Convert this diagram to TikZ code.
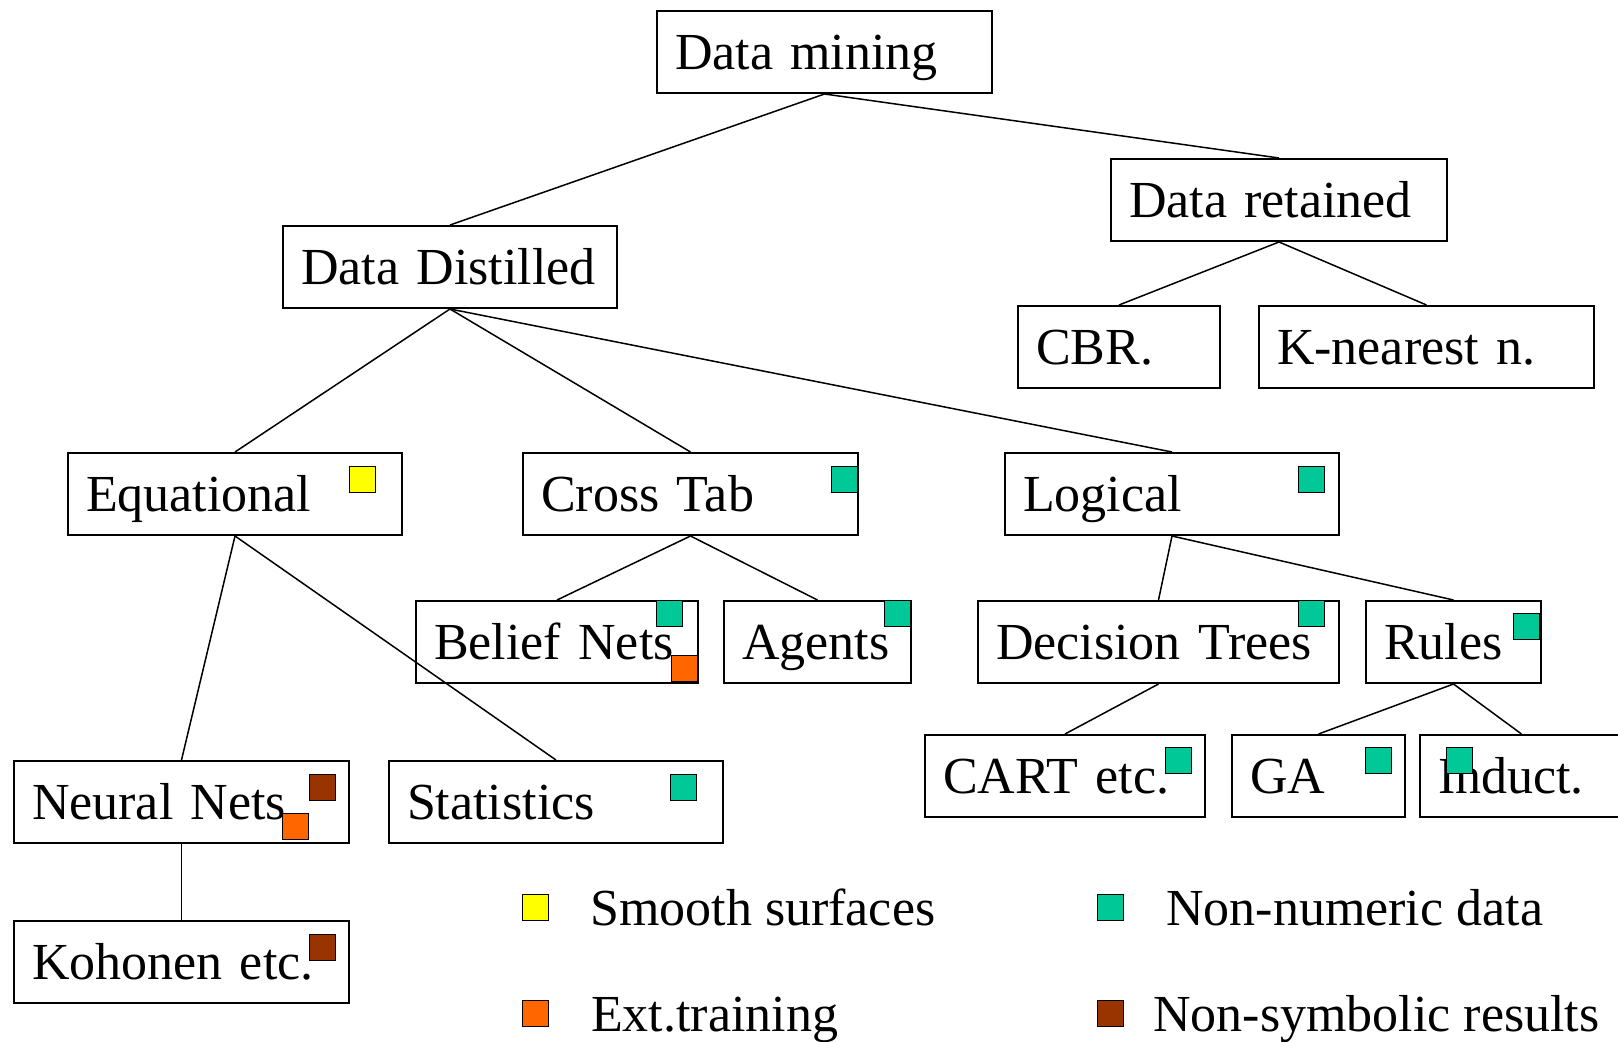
\documentclass[tikz,border=0pt]{standalone}
\usepackage{fontspec}
\setmainfont{Liberation Serif}
\definecolor{nonnum}{RGB}{0,200,150}
\definecolor{smooth}{RGB}{255,255,0}
\definecolor{exttrain}{RGB}{255,102,0}
\definecolor{nonsym}{RGB}{153,51,0}
\newcommand{\labelfont}{\fontsize{52}{60}\selectfont}

\begin{document}
\begin{tikzpicture}[x=1pt,y=-1pt,
  box/.style={draw, line width=2pt, rectangle, anchor=north west,
    minimum height=82pt, inner xsep=18pt, inner ysep=0pt, align=left,
    text height=34.4pt, text depth=0pt, font=\labelfont, text width=#1},
  box/.default=299pt,
  link/.style={line width=1.5pt},
  sq/.style={draw, line width=1.3pt, fill=#1, minimum size=26pt,
    inner sep=0pt, anchor=north west},
  legtext/.style={anchor=base west, inner sep=0pt, font=\labelfont}]

\useasboundingbox (0,0) rectangle (1618,1042);
\fill[white] (0,0) rectangle (1618,1042);
\clip (0,0) rectangle (1618,1042);

% tree boxes
\node[box]        (dm)   at (656,10)   {Data mining};
\node[box=300pt]  (dr)   at (1110,158) {Data retained};
\node[box=298pt]  (dd)   at (282,225)  {Data Distilled};
\node[box=166pt]  (cbr)  at (1017,305) {CBR.};
\node[box]        (knn)  at (1258,305) {K-nearest n.};
\node[box=298pt]  (eq)   at (67,452)   {Equational};
\node[box]        (ct)   at (522,452)  {Cross Tab};
\node[box=298pt]  (lg)   at (1004,452) {Logical};
\node[box=246pt]  (bn)   at (415,600)  {Belief Nets};
\node[box=151pt]  (ag)   at (723,600)  {Agents};
\node[box=325pt]  (dt)   at (977,600)  {Decision Trees};
\node[box=139pt]  (ru)   at (1365,600) {Rules};
\node[box=244pt]  (cart) at (924,734)  {CART etc.};
\node[box=137pt]  (ga)   at (1231,734) {GA};
\node[box=167pt]  (ind)  at (1419,734) {Induct.};
\node[box]        (nn)   at (13,760)   {Neural Nets};
\node[box=298pt]  (st)   at (388,760)  {Statistics};
\node[box]        (ko)   at (13,920)   {Kohonen etc.};

% connectors
\draw[link] (dm.south) -- (dd.north);
\draw[link] (dm.south) -- (dr.north);
\draw[link] (dr.south) -- (cbr.north);
\draw[link] (dr.south) -- (knn.north);
\draw[link] (dd.south) -- (eq.north);
\draw[link] (dd.south) -- (ct.north);
\draw[link] (dd.south) -- (lg.north);
\draw[link] (eq.south) -- (nn.north);
\draw[link] (eq.south) -- (st.north);
\draw[link] (ct.south) -- (bn.north);
\draw[link] (ct.south) -- (ag.north);
\draw[link] (lg.south) -- (dt.north);
\draw[link] (lg.south) -- (ru.north);
\draw[link] (dt.south) -- (cart.north);
\draw[link] (ru.south) -- (ga.north);
\draw[link] (ru.south) -- (ind.north);
\draw[link] (nn.south) -- (ko.north);

% property markers
\node[sq=smooth]   (eqA)   at (349,466)  {};
\node[sq=nonnum]   (ctA)   at (831,466)  {};
\node[sq=nonnum]   (lgA)   at (1298,466) {};
\node[sq=nonnum]   (bnA)   at (656,600)  {};
\node[sq=exttrain] (bnB)   at (671,655)  {};
\node[sq=nonnum]   (agA)   at (884,600)  {};
\node[sq=nonnum]   (dtA)   at (1298,600) {};
\node[sq=nonnum]   (ruA)   at (1513,613) {};
\node[sq=nonnum]   (cartA) at (1165,747) {};
\node[sq=nonnum]   (gaA)   at (1365,747) {};
\node[sq=nonnum]   (indA)  at (1446,747) {};
\node[sq=nonsym]   (nnA)   at (309,774)  {};
\node[sq=exttrain] (nnB)   at (282,813)  {};
\node[sq=nonnum]   (stA)   at (670,774)  {};
\node[sq=nonsym]   (koA)   at (309,934)  {};

% legend
\node[sq=smooth]   (lgY) at (522,894)  {};
\node[sq=nonnum]   (lgT) at (1097,894) {};
\node[sq=exttrain] (lgO) at (522,1000) {};
\node[sq=nonsym]   (lgB) at (1097,1000) {};
\node[legtext] (lgYt) at (590,925)  {Smooth surfaces};
\node[legtext] (lgTt) at (1166,925) {Non-numeric data};
\node[legtext] (lgOt) at (591,1031) {Ext.training};
\node[legtext] (lgBt) at (1153,1031) {Non-symbolic results};
\end{tikzpicture}
\end{document}
